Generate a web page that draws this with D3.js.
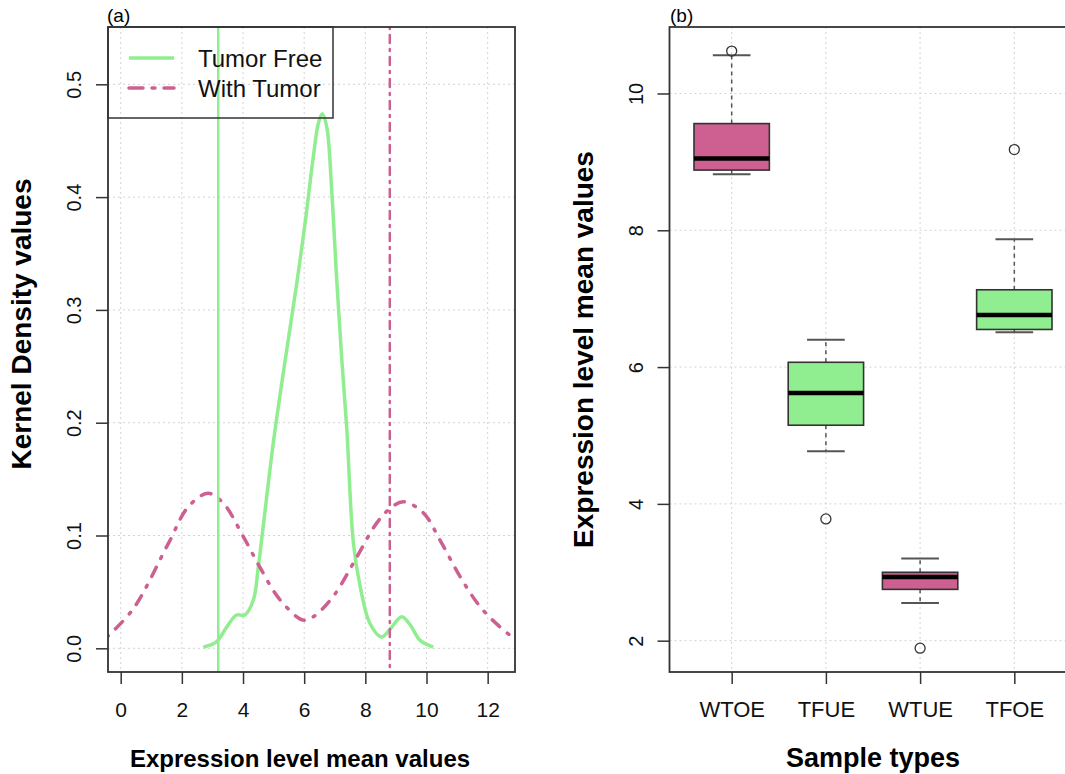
<!DOCTYPE html>
<html>
<head>
<meta charset="utf-8">
<script src="https://cdn.jsdelivr.net/npm/d3@7"></script>
<style>
  body { margin: 0; background: #fff; }
  svg { display: block; font-family: "Liberation Sans", Arial, Helvetica, sans-serif; }
</style>
</head>
<body>
<svg id="chart" width="1065" height="774"></svg>
<script>
// (a) kernel density curves as [x, density]
var tumorFreeDensity = [
  [2.70, 0.001], [3.14, 0.006], [3.47, 0.019], [3.79, 0.0295], [4.06, 0.0295],
  [4.34, 0.043], [4.50, 0.072], [4.66, 0.108], [4.99, 0.182], [5.36, 0.252],
  [5.76, 0.324], [6.03, 0.377], [6.30, 0.436], [6.46, 0.465], [6.59, 0.474],
  [6.74, 0.462], [6.90, 0.406], [7.06, 0.329], [7.23, 0.256], [7.39, 0.196],
  [7.61, 0.093], [7.83, 0.055], [8.15, 0.022], [8.53, 0.010], [8.81, 0.017],
  [9.19, 0.028], [9.46, 0.021], [9.79, 0.007], [10.22, 0.001]
];
var withTumorDensity = [
  [-0.45, 0.010], [0.41, 0.035], [1.56, 0.093], [2.21, 0.1255], [2.86, 0.1374],
  [3.36, 0.1285], [4.01, 0.099], [4.55, 0.072], [5.21, 0.043], [5.97, 0.025],
  [6.30, 0.028], [6.95, 0.046], [7.66, 0.078], [8.37, 0.111], [8.81, 0.124],
  [9.24, 0.130], [9.90, 0.120], [10.44, 0.096], [11.10, 0.0635], [11.75, 0.037],
  [12.40, 0.019], [12.95, 0.007]
];
// vertical reference lines (Tumor Free, With Tumor)
var markerValues = [3.19, 8.80];
var densityXTicks = [0, 2, 4, 6, 8, 10, 12];
var densityYTicks = [0, 0.1, 0.2, 0.3, 0.4, 0.5];
var legendLabels = ['Tumor Free', 'With Tumor'];

// (b) boxplot statistics per sample type
var sampleTypes = ['WTOE', 'TFUE', 'WTUE', 'TFOE'];
var boxLow = [8.82, 4.77, 2.55, 6.51];
var boxQ1 = [8.88, 5.15, 2.75, 6.55];
var boxMedian = [9.05, 5.62, 2.93, 6.76];
var boxQ3 = [9.56, 6.07, 3.00, 7.13];
var boxHigh = [10.56, 6.40, 3.20, 7.87];
var boxOutliers = [[10.62], [3.78], [1.89], [9.18]];
var expressionTicks = [2, 4, 6, 8, 10];

var pink = '#CD6090',
    green = '#90EE90',
    frameColor = '#333',
    gridColor = '#d3d3d3';

var svg = d3.select('#chart');

function drawGrid(g, xs, ys, x, y, box) {
  g.selectAll(null).data(xs).enter().append('line')
    .attr('x1', function(d) { return x(d); })
    .attr('x2', function(d) { return x(d); })
    .attr('y1', box.top).attr('y2', box.bottom);
  g.selectAll(null).data(ys).enter().append('line')
    .attr('x1', box.left).attr('x2', box.right)
    .attr('y1', function(d) { return y(d); })
    .attr('y2', function(d) { return y(d); });
  g.selectAll('line')
    .attr('stroke', gridColor)
    .attr('stroke-width', 1)
    .attr('stroke-dasharray', '2,3');
}

// R-like axes: outward ticks, rotated y labels
function drawAxes(g, box, x, y, xTicks, yTicks, xFormat, yFormat, xFont, yFont) {
  var xa = g.append('g')
    .attr('transform', 'translate(0,' + box.bottom + ')')
    .call(d3.axisBottom(x).tickValues(xTicks).tickSize(12).tickFormat(xFormat));
  xa.selectAll('text')
    .attr('y', 45).attr('dy', 0)
    .attr('font-size', xFont);

  var ya = g.append('g')
    .attr('transform', 'translate(' + box.left + ',0)')
    .call(d3.axisLeft(y).tickValues(yTicks).tickSize(12).tickFormat(yFormat));
  ya.selectAll('text')
    .attr('transform', 'rotate(-90)')
    .attr('x', 0).attr('y', -27).attr('dy', 0)
    .attr('text-anchor', 'middle')
    .attr('font-size', yFont);

  g.selectAll('.domain').remove();
  g.selectAll('.tick line').attr('stroke', frameColor).attr('stroke-width', 1.5);
  g.selectAll('.tick text').attr('fill', '#111').attr('font-family', null);
}

function drawFrame(g, box) {
  g.append('rect')
    .attr('x', box.left).attr('y', box.top)
    .attr('width', box.right - box.left).attr('height', box.bottom - box.top)
    .attr('fill', 'none')
    .attr('stroke', frameColor)
    .attr('stroke-width', 1.8);
}

// ---------- (a) density panel ----------
var boxA = {left: 108, right: 515, top: 27, bottom: 672};
var xA = d3.scaleLinear().domain([-0.415, 12.894]).range([boxA.left, boxA.right]);
var yA = d3.scaleLinear().domain([-0.021, 0.5508]).range([boxA.bottom, boxA.top]);

var gA = svg.append('g');
svg.append('clipPath').attr('id', 'clipA').append('rect')
  .attr('x', boxA.left).attr('y', boxA.top)
  .attr('width', boxA.right - boxA.left).attr('height', boxA.bottom - boxA.top);

drawGrid(gA.append('g'), densityXTicks, densityYTicks, xA, yA, boxA);

var densityLine = d3.line()
  .x(function(d) { return xA(d[0]); })
  .y(function(d) { return yA(d[1]); })
  .curve(d3.curveCatmullRom.alpha(0.5));

var plotA = gA.append('g').attr('clip-path', 'url(#clipA)');
plotA.append('path')
  .attr('d', densityLine(tumorFreeDensity))
  .attr('fill', 'none')
  .attr('stroke', green)
  .attr('stroke-width', 3.5)
  .attr('stroke-linejoin', 'round');
plotA.append('path')
  .attr('d', densityLine(withTumorDensity))
  .attr('fill', 'none')
  .attr('stroke', pink)
  .attr('stroke-width', 3.5)
  .attr('stroke-linecap', 'round')
  .attr('stroke-dasharray', '2,10,10,10');

// vertical markers
plotA.append('line')
  .attr('x1', xA(markerValues[0])).attr('x2', xA(markerValues[0]))
  .attr('y1', boxA.top).attr('y2', boxA.bottom)
  .attr('stroke', green).attr('stroke-width', 2.5);
plotA.append('line')
  .attr('x1', xA(markerValues[1])).attr('x2', xA(markerValues[1]))
  .attr('y1', boxA.top).attr('y2', boxA.bottom)
  .attr('stroke', pink).attr('stroke-width', 2.5)
  .attr('stroke-linecap', 'round')
  .attr('stroke-dasharray', '2,6,8,6');

// legend
var legend = gA.append('g');
legend.append('rect')
  .attr('x', boxA.left).attr('y', boxA.top)
  .attr('width', 225).attr('height', 91)
  .attr('fill', 'none').attr('stroke', frameColor).attr('stroke-width', 1.5);
legendLabels.forEach(function(label, i) {
  var ly = 58 + i * 30;
  legend.append('line')
    .attr('x1', 129).attr('x2', 174)
    .attr('y1', ly).attr('y2', ly)
    .attr('stroke', i === 0 ? green : pink)
    .attr('stroke-width', 3.5)
    .attr('stroke-linecap', i === 0 ? 'butt' : 'round')
    .attr('stroke-dasharray', i === 0 ? null : '14,9,3,9');
  legend.append('text')
    .attr('x', 198).attr('y', ly + 8.5)
    .attr('font-size', 24).attr('fill', '#111')
    .text(label);
});

drawFrame(gA, boxA);
drawAxes(gA, boxA, xA, yA, densityXTicks, densityYTicks,
  d3.format('d'), d3.format('.1f'), 21, 20);

gA.append('text')
  .attr('x', 300).attr('y', 767)
  .attr('text-anchor', 'middle')
  .attr('font-size', 24).attr('font-weight', 'bold')
  .text('Expression level mean values');
gA.append('text')
  .attr('transform', 'translate(31,324) rotate(-90)')
  .attr('text-anchor', 'middle')
  .attr('font-size', 28).attr('font-weight', 'bold')
  .text('Kernel Density values');
gA.append('text')
  .attr('x', 107).attr('y', 22)
  .attr('font-size', 19)
  .text('(a)');

// ---------- (b) boxplot panel ----------
var boxB = {left: 669.5, right: 1076.5, top: 27, bottom: 672};
var xB = d3.scaleLinear().domain([0.34, 4.66]).range([boxB.left, boxB.right]);
var yB = d3.scaleLinear().domain([1.542, 10.972]).range([boxB.bottom, boxB.top]);
var positions = sampleTypes.map(function(d, i) { return i + 1; });

var gB = svg.append('g');
drawGrid(gB.append('g'), positions, expressionTicks, xB, yB, boxB);

var boxes = gB.selectAll('.box')
  .data(sampleTypes)
  .enter().append('g')
    .attr('class', 'box');

var halfBox = 0.4, halfCap = 0.2;
boxes.each(function(name, i) {
  var g = d3.select(this);
  var cx = xB(i + 1);
  var fill = i % 2 === 0 ? pink : green;

  // whiskers (dashed) and caps
  [[boxQ3[i], boxHigh[i]], [boxQ1[i], boxLow[i]]].forEach(function(w) {
    g.append('line')
      .attr('x1', cx).attr('x2', cx)
      .attr('y1', yB(w[0])).attr('y2', yB(w[1]))
      .attr('stroke', '#555').attr('stroke-width', 1.5)
      .attr('stroke-dasharray', '4,4');
    g.append('line')
      .attr('x1', xB(i + 1 - halfCap)).attr('x2', xB(i + 1 + halfCap))
      .attr('y1', yB(w[1])).attr('y2', yB(w[1]))
      .attr('stroke', '#555').attr('stroke-width', 2);
  });

  g.append('rect')
    .attr('x', xB(i + 1 - halfBox))
    .attr('y', yB(boxQ3[i]))
    .attr('width', xB(i + 1 + halfBox) - xB(i + 1 - halfBox))
    .attr('height', yB(boxQ1[i]) - yB(boxQ3[i]))
    .attr('fill', fill)
    .attr('stroke', frameColor).attr('stroke-width', 1.6);

  g.append('line')
    .attr('x1', xB(i + 1 - halfBox)).attr('x2', xB(i + 1 + halfBox))
    .attr('y1', yB(boxMedian[i])).attr('y2', yB(boxMedian[i]))
    .attr('stroke', '#000').attr('stroke-width', 4.5);

  g.selectAll('circle')
    .data(boxOutliers[i])
    .enter().append('circle')
      .attr('cx', cx)
      .attr('cy', function(d) { return yB(d); })
      .attr('r', 5)
      .attr('fill', 'none')
      .attr('stroke', frameColor).attr('stroke-width', 1.3);
});

drawFrame(gB, boxB);
drawAxes(gB, boxB, xB, yB, positions, expressionTicks,
  function(d) { return sampleTypes[d - 1]; }, d3.format('d'), 22, 20);

gB.append('text')
  .attr('x', (boxB.left + boxB.right) / 2).attr('y', 767)
  .attr('text-anchor', 'middle')
  .attr('font-size', 27).attr('font-weight', 'bold')
  .text('Sample types');
gB.append('text')
  .attr('transform', 'translate(593,' + ((boxB.top + boxB.bottom) / 2) + ') rotate(-90)')
  .attr('text-anchor', 'middle')
  .attr('font-size', 28).attr('font-weight', 'bold')
  .text('Expression level mean values');
gB.append('text')
  .attr('x', 670).attr('y', 22)
  .attr('font-size', 19)
  .text('(b)');
</script>
</body>
</html>
